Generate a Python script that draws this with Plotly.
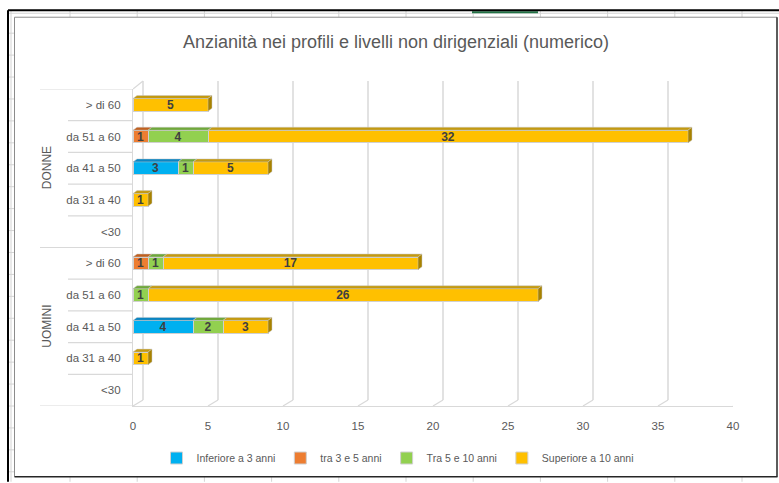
import plotly.graph_objects as go

# ---------------- data ----------------
groups = ["DONNE"] * 5 + ["UOMINI"] * 5
ages = ["> di 60", "da 51 a 60", "da 41 a 50", "da 31 a 40", "<30"] * 2
series_names = ["Inferiore a 3 anni", "tra 3 e 5 anni", "Tra 5 e 10 anni", "Superiore a 10 anni"]
inferiore = [None, None, 3, None, None, None, None, 4, None, None]
tra_3_5 = [None, 1, None, None, None, 1, None, None, None, None]
tra_5_10 = [None, 4, 1, None, None, 1, 1, 2, None, None]
superiore = [5, 32, 5, 1, None, 17, 26, 3, 1, None]
x_ticks = [0, 5, 10, 15, 20, 25, 30, 35, 40]

title = "Anzianità nei profili e livelli non dirigenziali (numerico)"

# ---------------- style ----------------
W, H = 779, 483
L, R, T, B = 133, 46, 89, 76
PW, PH = W - L - R, H - T - B
colors = ["#00B0F0", "#ED7D31", "#92D050", "#FFC000"]
top_colors = ["#0A85C2", "#C0601F", "#6FA83A", "#C49A10"]
side_colors = ["#0A6E9E", "#A5511A", "#5E8F30", "#A88200"]
grid_col = "#D9D9D9"
txt_col = "#595959"
FONT = "Liberation Sans, Arial, sans-serif"
bar_w = 0.4
dx = 4 / (PW / 40)     # 3D depth in data units (x)
dy = 3 / (PH / 10)     # 3D depth in data units (y)

n = len(ages)
ypos = [n - 1 - i for i in range(n)]
series = [inferiore, tra_3_5, tra_5_10, superiore]


def px(p):  # pixel -> paper x
    return (p - L) / PW


def py(p):  # pixel -> paper y
    return (H - B - p) / PH


fig = go.Figure()
for name, vals, col in zip(series_names, series, colors):
    fig.add_trace(go.Bar(
        name=name, y=ypos, x=vals, orientation="h", width=bar_w,
        marker=dict(color=col, line=dict(color="#D0D0D0", width=1)),
        text=[str(v) if v else "" for v in vals],
        textposition="inside", insidetextanchor="middle", constraintext="none",
        textangle=0,
        textfont=dict(family=FONT, size=12, color="#404040", weight="bold"),
        hoverinfo="skip",
    ))

shapes = []
# 3D faces of bars (computed from data)
for i in range(n):
    yc = ypos[i]
    yt = yc + bar_w / 2
    yb = yc - bar_w / 2
    cum = 0
    last = None
    for s, vals in enumerate(series):
        v = vals[i]
        if not v:
            continue
        a, b = cum, cum + v
        shapes.append(dict(type="path", xref="x", yref="y", layer="above",
                           path=f"M{a},{yt} L{b},{yt} L{b+dx},{yt+dy} L{a+dx},{yt+dy} Z",
                           fillcolor=top_colors[s], line=dict(color="#C8C8C8", width=0.5)))
        cum = b
        last = s
    if last is not None:
        shapes.append(dict(type="path", xref="x", yref="y", layer="above",
                           path=f"M{cum},{yb} L{cum},{yt} L{cum+dx},{yt+dy} L{cum+dx},{yb+dy} Z",
                           fillcolor=side_colors[last], line=dict(color="#C8C8C8", width=0.5)))

# back-wall gridlines and floor perspective
for v in x_ticks:
    shapes.append(dict(type="line", xref="x", yref="paper", xsizemode="pixel", xanchor=v,
                       x0=10, x1=10, y0=py(401), y1=py(81), layer="below",
                       line=dict(color=grid_col, width=1.5)))
    shapes.append(dict(type="line", xref="x", yref="paper", xsizemode="pixel", xanchor=v,
                       ysizemode="pixel", yanchor=0, x0=0, x1=10, y0=0, y1=6, layer="below",
                       line=dict(color=grid_col, width=1.2)))
shapes.append(dict(type="line", xref="x", yref="paper", xsizemode="pixel", xanchor=0,
                   ysizemode="pixel", yanchor=1, x0=0, x1=10, y0=0, y1=8, layer="below",
                   line=dict(color=grid_col, width=1.2)))

# category dividers
for k in range(n + 1):
    yv = n - 0.5 - k
    long_line = k % 5 == 0
    shapes.append(dict(type="line", xref="paper", yref="y",
                       x0=px(40 if long_line else 68), x1=0, y0=yv, y1=yv,
                       line=dict(color=grid_col, width=1.2)))

# sheet / frame decorations
for xline in [70 + 67.2 * k for k in range(11)]:
    shapes.append(dict(type="line", xref="paper", yref="paper", x0=px(xline), x1=px(xline),
                       y0=py(10), y1=py(17), line=dict(color="#D4D4D4", width=1)))
    shapes.append(dict(type="line", xref="paper", yref="paper", x0=px(xline), x1=px(xline),
                       y0=py(478), y1=py(483), line=dict(color="#D4D4D4", width=1)))
for yline in [33 + 22 * k for k in range(21)]:
    shapes.append(dict(type="line", xref="paper", yref="paper", x0=px(8), x1=px(14),
                       y0=py(yline), y1=py(yline), line=dict(color="#D4D4D4", width=1)))
shapes.append(dict(type="line", xref="paper", yref="paper", x0=px(8), x1=px(W),
                   y0=py(13), y1=py(13), line=dict(color="#D4D4D4", width=1)))
shapes.append(dict(type="line", xref="paper", yref="paper", x0=px(11), x1=px(11),
                   y0=py(10), y1=py(H), line=dict(color="#D4D4D4", width=1)))
shapes.append(dict(type="line", xref="paper", yref="paper", x0=px(472), x1=px(538),
                   y0=py(12), y1=py(12), line=dict(color="#217346", width=2)))
# outer black frame
shapes.append(dict(type="line", xref="paper", yref="paper", x0=px(8), x1=px(W),
                   y0=py(10), y1=py(10), line=dict(color="#000000", width=2)))
shapes.append(dict(type="line", xref="paper", yref="paper", x0=px(8), x1=px(8),
                   y0=py(10), y1=py(H), line=dict(color="#000000", width=2)))
# chart border
shapes.append(dict(type="line", xref="paper", yref="paper", x0=px(14.5), x1=px(777),
                   y0=py(17), y1=py(17), line=dict(color="#8C8C8C", width=1)))
shapes.append(dict(type="line", xref="paper", yref="paper", x0=px(14.5), x1=px(14.5),
                   y0=py(17), y1=py(478), line=dict(color="#8C8C8C", width=1)))
shapes.append(dict(type="line", xref="paper", yref="paper", x0=px(14.5), x1=px(777.5),
                   y0=py(478), y1=py(478), line=dict(color="#262626", width=1.5)))
shapes.append(dict(type="line", xref="paper", yref="paper", x0=px(777), x1=px(777),
                   y0=py(17), y1=py(478), line=dict(color="#262626", width=1.5)))

annotations = [
    dict(text="DONNE", x=px(47), y=7, xref="paper", yref="y", textangle=-90, showarrow=False,
         xanchor="center", yanchor="middle", font=dict(family=FONT, size=12, color=txt_col)),
    dict(text="UOMINI", x=px(47), y=2, xref="paper", yref="y", textangle=-90, showarrow=False,
         xanchor="center", yanchor="middle", font=dict(family=FONT, size=12, color=txt_col)),
]

fig.update_layout(
    width=W, height=H, autosize=False,
    margin=dict(l=L, r=R, t=T, b=B),
    paper_bgcolor="white", plot_bgcolor="white",
    barmode="stack", bargap=0.6,
    title=dict(text=title, x=396 / W, xref="container", xanchor="center",
               y=1 - 42 / H, yref="container", yanchor="middle",
               font=dict(family=FONT, size=18, color=txt_col)),
    xaxis=dict(range=[0, 40], tickvals=x_ticks, showgrid=False, zeroline=False,
               showline=True, linecolor=grid_col, linewidth=1.2, ticks="",
               ticklabelstandoff=9, tickfont=dict(family=FONT, size=11.5, color=txt_col),
               fixedrange=True),
    yaxis=dict(range=[-0.5, n - 0.5], tickvals=ypos, ticktext=ages, showgrid=False,
               zeroline=False, showline=True, linecolor=grid_col, linewidth=1.2, ticks="",
               ticklabelstandoff=9, tickfont=dict(family=FONT, size=11.5, color=txt_col),
               fixedrange=True),
    legend=dict(orientation="h", x=px(398), xanchor="center", y=py(458), yanchor="middle",
                traceorder="normal", font=dict(family=FONT, size=10.5, color=txt_col),
                itemwidth=30, bgcolor="rgba(0,0,0,0)"),
    shapes=shapes, annotations=annotations,
    showlegend=True,
)

fig.write_html("out.html", config={"displayModeBar": False},
               post_script="document.body.style.margin='0px';")
